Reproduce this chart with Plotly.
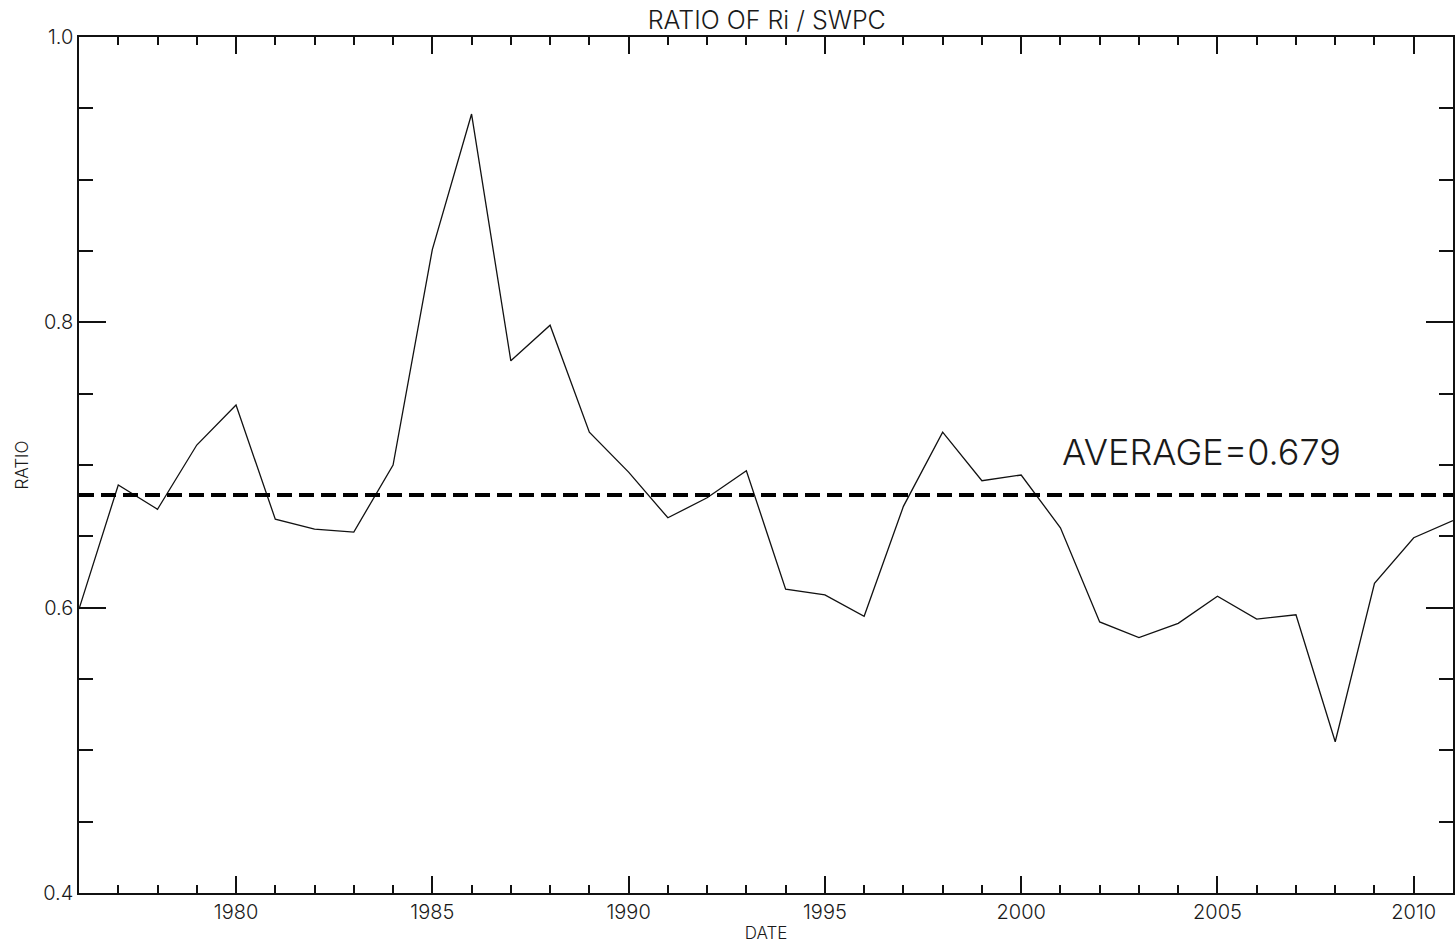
import plotly.graph_objects as go

years = list(range(1976, 2012))
ratio = [0.599, 0.686, 0.669, 0.714, 0.742, 0.662, 0.655, 0.653, 0.700, 0.851,
         0.946, 0.773, 0.798, 0.723, 0.695, 0.663, 0.677, 0.696, 0.613, 0.609,
         0.594, 0.671, 0.723, 0.689, 0.693, 0.656, 0.590, 0.579, 0.589, 0.608,
         0.592, 0.595, 0.506, 0.617, 0.649, 0.661]
average = 0.679
avg_label = "AVERAGE=0.679"
title = "RATIO OF Ri / SWPC"
x_title = "DATE"
y_title = "RATIO"

FONT = "Inter"
INK = "#111111"
TXT = "#1a1a1a"
W = 300

fig = go.Figure()
fig.add_trace(go.Scatter(x=years, y=ratio, mode="lines",
                         line=dict(color=INK, width=1.3), showlegend=False))
fig.add_trace(go.Scatter(x=[years[0], years[-1]], y=[average, average], mode="lines",
                         line=dict(color="black", width=4, dash="15px,7px"),
                         showlegend=False))

fig.add_annotation(x=2001, y=0.709, xref="x", yref="y", text=avg_label,
                   showarrow=False, xanchor="left", yanchor="middle",
                   font=dict(family=FONT, size=36, color=TXT, weight=W))

fig.update_layout(
    width=1455, height=943,
    margin=dict(l=79, r=0, t=37, b=50),
    paper_bgcolor="white", plot_bgcolor="white",
    font=dict(family=FONT, color=TXT, weight=W),
    title=dict(text=title, x=0.527, xanchor="center", y=0.979, yanchor="middle",
               font=dict(family=FONT, size=25, color=TXT, weight=W)),
)
fig.update_xaxes(
    range=[1976, 2011], showgrid=False, zeroline=False,
    showline=True, linecolor=INK, linewidth=1.5, mirror="allticks",
    ticks="inside", ticklen=17, tickwidth=1.5, tickcolor=INK,
    tick0=1980, dtick=5, tickfont=dict(family=FONT, size=20, color=TXT, weight=W),
    minor=dict(ticks="inside", ticklen=8, tickwidth=1.5, tickcolor=INK, dtick=1, tick0=1976, showgrid=False),
    title=dict(text=x_title, font=dict(family=FONT, size=17, color=TXT, weight=W), standoff=5),
)
fig.update_yaxes(
    range=[0.4, 1.0], showgrid=False, zeroline=False,
    showline=True, linecolor=INK, linewidth=1.5, mirror="allticks",
    ticks="inside", ticklen=27, tickwidth=1.5, tickcolor=INK,
    tick0=0.4, dtick=0.2, tickformat=".1f", tickfont=dict(family=FONT, size=20, color=TXT, weight=W),
    minor=dict(ticks="inside", ticklen=14, tickwidth=1.5, tickcolor=INK, dtick=0.05, tick0=0.4, showgrid=False),
    title=dict(text=y_title, font=dict(family=FONT, size=17, color=TXT, weight=W), standoff=10),
)

fig.write_html("out.html", config={"displayModeBar": False},
               post_script="document.body.style.margin='0';")
